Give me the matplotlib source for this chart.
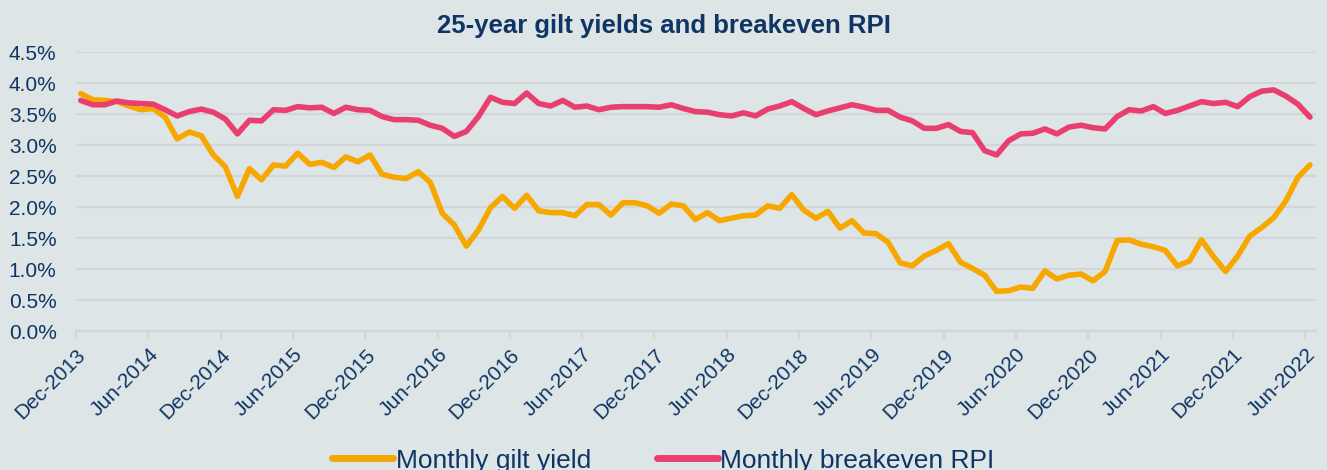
import matplotlib.pyplot as plt
import numpy as np

# monthly data, Dec-2013 .. Jun-2022
gilt_yield = [3.83, 3.73, 3.72, 3.70, 3.63, 3.57, 3.59, 3.45, 3.10, 3.21,
              3.15, 2.84, 2.65, 2.17, 2.62, 2.44, 2.68, 2.66, 2.87, 2.69,
              2.72, 2.64, 2.81, 2.73, 2.84, 2.53, 2.48, 2.46, 2.57, 2.40,
              1.90, 1.71, 1.37, 1.63, 1.99, 2.17, 1.98, 2.19, 1.94, 1.91,
              1.91, 1.86, 2.04, 2.04, 1.87, 2.07, 2.07, 2.02, 1.90, 2.05,
              2.02, 1.80, 1.91, 1.78, 1.82, 1.86, 1.87, 2.02, 1.98, 2.20,
              1.95, 1.82, 1.93, 1.66, 1.78, 1.58, 1.57, 1.43, 1.10, 1.05,
              1.21, 1.30, 1.41, 1.11, 1.01, 0.90, 0.64, 0.65, 0.71, 0.69,
              0.97, 0.84, 0.90, 0.92, 0.81, 0.96, 1.46, 1.47, 1.40, 1.36,
              1.30, 1.05, 1.13, 1.47, 1.20, 0.96, 1.21, 1.53, 1.67, 1.83,
              2.10, 2.48, 2.68]

breakeven_rpi = [3.72, 3.65, 3.65, 3.71, 3.68, 3.67, 3.66, 3.57, 3.47, 3.54,
                 3.58, 3.53, 3.42, 3.18, 3.40, 3.39, 3.57, 3.56, 3.62, 3.60,
                 3.61, 3.51, 3.61, 3.57, 3.56, 3.46, 3.41, 3.41, 3.40, 3.32,
                 3.27, 3.14, 3.22, 3.46, 3.77, 3.69, 3.67, 3.84, 3.67, 3.63,
                 3.72, 3.61, 3.63, 3.57, 3.61, 3.62, 3.62, 3.62, 3.61, 3.65,
                 3.59, 3.54, 3.53, 3.49, 3.47, 3.52, 3.47, 3.58, 3.63, 3.70,
                 3.59, 3.49, 3.55, 3.60, 3.65, 3.61, 3.56, 3.56, 3.45, 3.39,
                 3.27, 3.27, 3.33, 3.22, 3.20, 2.91, 2.84, 3.07, 3.18, 3.19,
                 3.26, 3.18, 3.29, 3.32, 3.28, 3.26, 3.46, 3.57, 3.55, 3.62,
                 3.51, 3.56, 3.63, 3.70, 3.67, 3.69, 3.62, 3.78, 3.87, 3.89,
                 3.79, 3.66, 3.45]

tick_labels = ['Dec-2013', 'Jun-2014', 'Dec-2014', 'Jun-2015', 'Dec-2015',
               'Jun-2016', 'Dec-2016', 'Jun-2017', 'Dec-2017', 'Jun-2018',
               'Dec-2018', 'Jun-2019', 'Dec-2019', 'Jun-2020', 'Dec-2020',
               'Jun-2021', 'Dec-2021', 'Jun-2022']

bg = '#dee5e7'
navy = '#0e3563'
grid_col = '#d3d6d8'

plt.rcParams['font.family'] = ['Liberation Sans', 'DejaVu Sans']

fig = plt.figure(figsize=(13.27, 4.70), dpi=100, facecolor=bg)
ax = fig.add_axes([0.0573, 0.2957, 0.9344, 0.5935])
ax.set_facecolor(bg)

x = np.arange(len(gilt_yield))
ax.plot(x, gilt_yield, color='#f7a800', lw=4, solid_capstyle='round',
        label='Monthly gilt yield', zorder=3)
ax.plot(x, breakeven_rpi, color='#e83f6f', lw=4, solid_capstyle='round',
        label='Monthly breakeven RPI', zorder=3)

ax.set_xlim(-0.39, 102.5)
ax.set_ylim(0, 4.5)
ax.set_yticks(np.arange(0, 4.51, 0.5))
ax.set_yticklabels([f'{v:.1f}%' for v in np.arange(0, 4.51, 0.5)])
ax.grid(axis='y', color=grid_col, lw=1.6)
ax.set_axisbelow(True)

ax.set_xticks(np.arange(0, 103, 6) - 0.39)
ax.set_xticklabels(tick_labels, rotation=45, ha='right', rotation_mode='anchor')

for s in ['top', 'right', 'left']:
    ax.spines[s].set_visible(False)
ax.spines['bottom'].set_color(grid_col)
ax.spines['bottom'].set_linewidth(1.6)
ax.tick_params(axis='y', length=0, labelsize=15, labelcolor=navy, pad=14)
ax.tick_params(axis='x', length=6, width=1.6, color=grid_col,
               labelsize=15, labelcolor=navy, pad=4)

fig.text(0.5, 0.945, '25-year gilt yields and breakeven RPI', ha='center',
         va='center', fontsize=18.5, fontweight='bold', color=navy)

leg = fig.legend(loc='center', bbox_to_anchor=(0.5, 0.02), ncol=2,
                 frameon=False, fontsize=19, handlelength=2.3,
                 columnspacing=2.5, handletextpad=0.1)
for t in leg.get_texts():
    t.set_color(navy)
for h in leg.get_lines():
    h.set_linewidth(5)

fig.savefig('out.png', dpi=100, facecolor=bg)
